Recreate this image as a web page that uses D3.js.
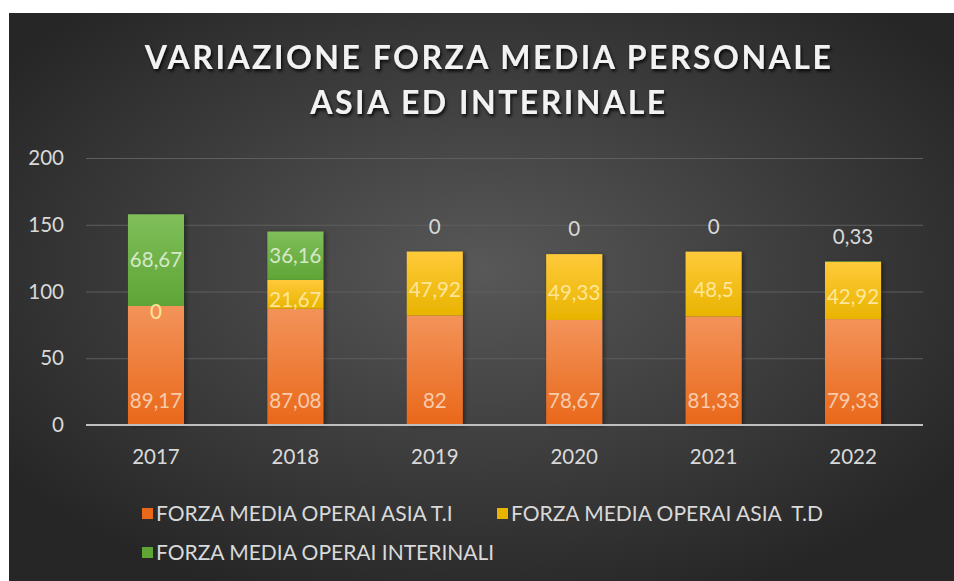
<!DOCTYPE html>
<html>
<head>
<meta charset="utf-8">
<script src="https://cdn.jsdelivr.net/npm/d3@7"></script>
<style>
  html, body { margin: 0; padding: 0; background: #ffffff; }
  svg { display: block; font-family: Lato, "Open Sans", sans-serif; }
</style>
</head>
<body>
<svg id="chart" width="954" height="581"></svg>
<script>
var years = ["2017", "2018", "2019", "2020", "2021", "2022"];
var ti_values = [89.17, 87.08, 82, 78.67, 81.33, 79.33];
var td_values = [0, 21.67, 47.92, 49.33, 48.5, 42.92];
var int_values = [68.67, 36.16, 0, 0, 0, 0.33];
var series_names = ["FORZA MEDIA OPERAI ASIA T.I", "FORZA MEDIA OPERAI ASIA  T.D", "FORZA MEDIA OPERAI INTERINALI"];
var y_ticks = [0, 50, 100, 150, 200];
var title_lines = ["VARIAZIONE FORZA MEDIA PERSONALE", "ASIA ED INTERINALE"];

/* colours per series: gradient top, gradient bottom, label colour */
var colors = [
    { top: "#f3935a", bottom: "#e9681a", label: "#f8cbad" },
    { top: "#ffca3a", bottom: "#e8b400", label: "#ffe699" },
    { top: "#80bf5a", bottom: "#5ea536", label: "#d5e8c8" }
];

var plot_left = 86, plot_right = 923, plot_top = 158, plot_bottom = 425;

function fmt(v) {
    return String(v).replace(".", ",");
}

function draw_chart() {
    var svg = d3.select("svg#chart");
    var defs = svg.append("defs");

    var bg = defs.append("radialGradient").attr("id", "bg")
        .attr("cx", "0.5").attr("cy", "0.45").attr("r", "0.62");
    bg.append("stop").attr("offset", "0").attr("stop-color", "#585858");
    bg.append("stop").attr("offset", "1").attr("stop-color", "#262626");

    colors.forEach(function (c, i) {
        var g = defs.append("linearGradient").attr("id", "grad" + i)
            .attr("x1", 0).attr("y1", 0).attr("x2", 0).attr("y2", 1);
        g.append("stop").attr("offset", "0").attr("stop-color", c.top);
        g.append("stop").attr("offset", "1").attr("stop-color", c.bottom);
    });

    var shadow = defs.append("filter").attr("id", "tshadow")
        .attr("x", "-5%").attr("y", "-20%").attr("width", "110%").attr("height", "150%");
    shadow.append("feDropShadow").attr("dx", 1.5).attr("dy", 2.5)
        .attr("stdDeviation", 1.5).attr("flood-color", "#000").attr("flood-opacity", 0.8);

    var bshadow = defs.append("filter").attr("id", "bshadow")
        .attr("x", "-20%").attr("y", "-10%").attr("width", "140%").attr("height", "120%");
    bshadow.append("feDropShadow").attr("dx", 2).attr("dy", 1)
        .attr("stdDeviation", 2).attr("flood-color", "#000").attr("flood-opacity", 0.45);

    svg.append("rect").attr("x", 9).attr("y", 13)
        .attr("width", 945).attr("height", 568).attr("fill", "url(#bg)");

    /* title */
    svg.append("g").attr("filter", "url(#tshadow)")
        .selectAll("text").data(title_lines).enter().append("text")
        .attr("x", 489).attr("y", function (d, i) { return 69 + i * 45; })
        .attr("text-anchor", "middle").attr("fill", "#f2f2f2")
        .attr("font-size", 32).attr("font-weight", 700)
        .attr("letter-spacing", 2.5)
        .text(function (d) { return d; });

    var x = d3.scaleBand().domain(years).range([plot_left, plot_right])
        .paddingInner(0.598).paddingOuter(0.301);
    var y = d3.scaleLinear().domain([0, 200]).range([plot_bottom, plot_top]);

    /* y axis with gridlines */
    var y_axis = svg.append("g").attr("transform", "translate(" + plot_left + ",0)")
        .call(d3.axisLeft(y).tickValues(y_ticks)
            .tickSize(-(plot_right - plot_left)).tickPadding(22));
    y_axis.select(".domain").remove();
    y_axis.selectAll(".tick line").attr("stroke", "#5e5e5e").attr("stroke-width", 1);
    y_axis.selectAll(".tick text").attr("fill", "#d9d9d9")
        .attr("font-size", 20.5).attr("font-family", "Lato, sans-serif");

    var table = years.map(function (yr, i) {
        return { year: yr, ti: ti_values[i], td: td_values[i], int: int_values[i] };
    });
    var keys = ["ti", "td", "int"];
    var stacked = d3.stack().keys(keys)(table);

    var layers = svg.append("g").attr("filter", "url(#bshadow)")
        .selectAll("g.layer").data(stacked).enter().append("g")
        .attr("class", "layer")
        .attr("fill", function (d, i) { return "url(#grad" + i + ")"; });
    layers.selectAll("rect").data(function (d) { return d; }).enter().append("rect")
        .attr("x", function (d) { return x(d.data.year); })
        .attr("width", x.bandwidth())
        .attr("y", function (d) { return y(d[1]); })
        .attr("height", function (d) { return y(d[0]) - y(d[1]); });

    /* x axis baseline */
    var x_axis = svg.append("g").attr("transform", "translate(0," + plot_bottom + ")")
        .call(d3.axisBottom(x).tickSize(0).tickPadding(24));
    x_axis.select(".domain").attr("stroke", "#bfbfbf").attr("stroke-width", 2)
        .attr("d", "M" + plot_left + ",0H" + plot_right);
    x_axis.selectAll(".tick text").attr("fill", "#d9d9d9")
        .attr("font-size", 20.5).attr("font-family", "Lato, sans-serif");

    /* data labels */
    var labels = svg.append("g").attr("font-size", 20.5).attr("text-anchor", "middle");
    stacked.forEach(function (layer, li) {
        labels.selectAll("text.l" + li).data(layer).enter().append("text")
            .attr("class", "l" + li)
            .attr("x", function (d) { return x(d.data.year) + x.bandwidth() / 2; })
            .attr("y", function (d) {
                var h = y(d[0]) - y(d[1]);
                if (li == 0) return y(d[0]) - 24;
                if (li == 2 && h < 10) return y(d[1]) - 25;
                if (li == 2) return (y(d[0]) + y(d[1])) / 2;
                return (y(d[0]) + y(d[1])) / 2 + 6;
            })
            .attr("dy", "0.35em")
            .attr("fill", function (d) {
                var h = y(d[0]) - y(d[1]);
                if (li == 2 && h < 10) return "#d9d9d9";
                return colors[li].label;
            })
            .text(function (d) { return fmt(d.data[keys[li]]); });
    });

    /* legend */
    var legend_pos = [[142, 514], [497, 514], [142, 553]];
    var legend = svg.append("g").selectAll("g").data(series_names).enter().append("g")
        .attr("transform", function (d, i) {
            return "translate(" + legend_pos[i][0] + "," + legend_pos[i][1] + ")";
        });
    legend.append("rect").attr("x", 0).attr("y", -6).attr("width", 11).attr("height", 11)
        .attr("fill", function (d, i) { return colors[i].bottom; });
    legend.append("text").attr("x", 14).attr("y", 0).attr("dy", "0.35em")
        .attr("fill", "#d9d9d9").attr("font-size", 21)
        .attr("xml:space", "preserve").style("white-space", "pre")
        .text(function (d) { return d; });
}

window.onload = function () {
    draw_chart();
};
</script>
</body>
</html>
